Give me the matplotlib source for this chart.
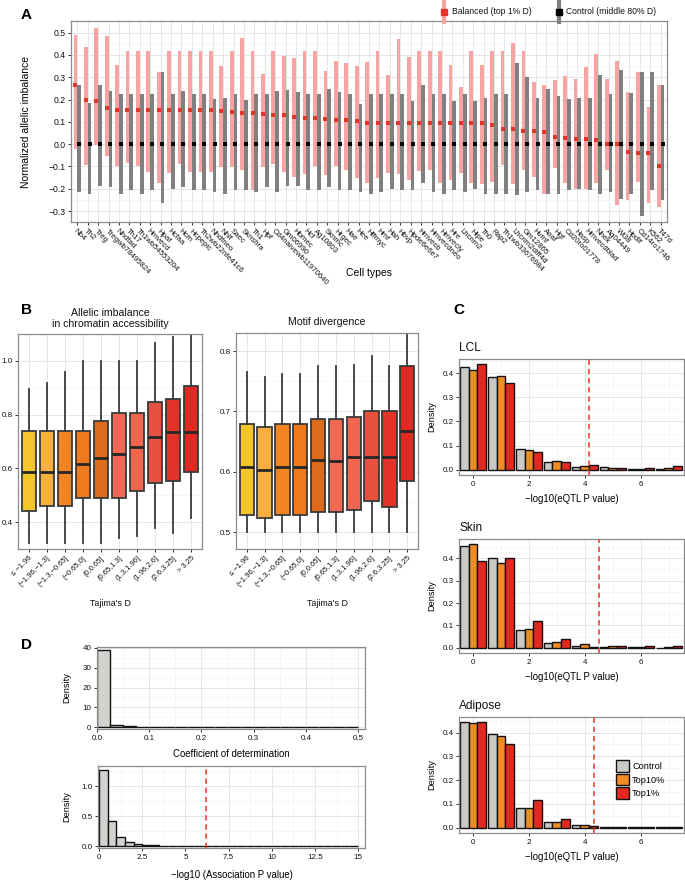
import numpy as np
import matplotlib
matplotlib.use('Agg')
import matplotlib.pyplot as plt
from matplotlib.ticker import MultipleLocator, FuncFormatter
from matplotlib.patches import Patch
from matplotlib.lines import Line2D

plt.rcParams['font.family'] = ['Liberation Sans', 'DejaVu Sans']

# ---------------- DATA ----------------
cell_types = ["Nb4", "Th2", "Treg", "Tregwb78495824", "Nhdfad", "Th17", "Th1wb54553204",
              "Hmvecd", "Hpaf", "Hcfaa", "Hcm", "Hcpepic", "Th2wb22nfe41c6", "Nhdfneo",
              "Nhlf", "Saec", "Sknshra", "Th1", "Hpf", "Cd4naivewb11970640", "Gm06990",
              "Hbmec", "Hcf", "Ag10803", "Sknmc", "Hrgec", "Hae", "Hee", "Hffmyc", "Hmf",
              "Hah", "Hbvp", "Hpde6e6e7", "Hmvecb", "Hmvecdneo", "Hmvecly", "Hre", "Lhcnm2",
              "Hipe", "Th0", "Rap2", "Th1wb33676984", "Lhcnm2diff4d", "Gm12865", "Hvmf",
              "Aoaf", "Hgf", "Cd20ro01778", "Hasp", "Hmvecdblad", "Nhek", "Ag04449", "Wi38",
              "Hpdlf", "Cd14ro1746", "K562", "T47d"]
balanced_mid = [0.264, 0.20, 0.194, 0.16, 0.152, 0.152, 0.152, 0.152, 0.152, 0.152,
                0.152, 0.152, 0.152, 0.152, 0.147, 0.142, 0.138, 0.138, 0.135, 0.132,
                0.132, 0.12, 0.115, 0.115, 0.112, 0.11, 0.106, 0.103, 0.095, 0.095,
                0.095, 0.095, 0.095, 0.095, 0.095, 0.095, 0.095, 0.095, 0.095, 0.095,
                0.088, 0.07, 0.07, 0.06, 0.057, 0.054, 0.03, 0.028, 0.024, 0.024,
                0.02, 0.0, 0.0, -0.035, -0.038, -0.04, -0.098]
balanced_hi = [0.488, 0.436, 0.522, 0.484, 0.354, 0.416, 0.416, 0.416, 0.322, 0.416,
               0.416, 0.416, 0.416, 0.416, 0.35, 0.416, 0.478, 0.416, 0.314, 0.416,
               0.393, 0.385, 0.416, 0.416, 0.327, 0.374, 0.362, 0.35, 0.37, 0.416,
               0.31, 0.472, 0.39, 0.416, 0.416, 0.416, 0.357, 0.258, 0.416, 0.357,
               0.416, 0.416, 0.455, 0.416, 0.277, 0.265, 0.287, 0.304, 0.29, 0.345,
               0.402, 0.29, 0.372, 0.234, 0.322, 0.165, 0.265]
balanced_lo = [-0.024, -0.094, -0.005, -0.054, -0.099, -0.084, -0.099, -0.127, -0.174, -0.129,
               -0.087, -0.124, -0.124, -0.124, -0.102, -0.102, -0.114, -0.204, -0.102, -0.087,
               -0.124, -0.147, -0.132, -0.099, -0.139, -0.099, -0.114, -0.154, -0.174, -0.154,
               -0.129, -0.132, -0.159, -0.12, -0.117, -0.174, -0.162, -0.129, -0.174, -0.177,
               -0.169, -0.094, -0.177, -0.117, -0.147, -0.222, -0.109, -0.174, -0.2, -0.2,
               -0.174, -0.117, -0.274, -0.249, -0.169, -0.264, -0.28]
control_mid = [0.0] * 57
control_hi = [0.264, 0.184, 0.264, 0.24, 0.224, 0.224, 0.224, 0.224, 0.322, 0.224,
              0.24, 0.224, 0.224, 0.204, 0.207, 0.224, 0.2, 0.224, 0.224, 0.24,
              0.244, 0.234, 0.224, 0.224, 0.247, 0.234, 0.224, 0.178, 0.224, 0.224,
              0.224, 0.224, 0.194, 0.265, 0.224, 0.224, 0.194, 0.224, 0.194, 0.205,
              0.224, 0.224, 0.363, 0.302, 0.207, 0.246, 0.218, 0.204, 0.209, 0.207,
              0.31, 0.224, 0.333, 0.228, 0.322, 0.322, 0.265]
control_lo = [-0.214, -0.222, -0.189, -0.192, -0.222, -0.207, -0.222, -0.207, -0.264, -0.2,
              -0.192, -0.204, -0.207, -0.214, -0.222, -0.207, -0.207, -0.214, -0.192, -0.214,
              -0.189, -0.189, -0.207, -0.207, -0.192, -0.207, -0.207, -0.214, -0.222, -0.214,
              -0.2, -0.204, -0.204, -0.174, -0.214, -0.222, -0.207, -0.214, -0.2, -0.222,
              -0.222, -0.222, -0.229, -0.214, -0.207, -0.222, -0.222, -0.207, -0.2, -0.207,
              -0.222, -0.214, -0.244, -0.222, -0.32, -0.204, -0.252]

tajima_bins = ["\u2264 \u22121.96", "(\u22121.96,\u22121.3]", "(\u22121.3,\u22120.65]",
               "(\u22120.65,0]", "(0,0.65]", "(0.65,1.3]", "(1.3,1.96]", "(1.96,2.6]",
               "(2.6,3.25]", "> 3.25"]
# Allelic imbalance boxes
ai_whislo = [0.322, 0.322, 0.322, 0.322, 0.322, 0.342, 0.348, 0.38, 0.36, 0.415]
ai_q1 = [0.441, 0.46, 0.46, 0.488, 0.488, 0.488, 0.516, 0.547, 0.553, 0.585]
ai_med = [0.586, 0.586, 0.586, 0.615, 0.64, 0.654, 0.679, 0.715, 0.737, 0.737]
ai_q3 = [0.738, 0.738, 0.738, 0.738, 0.777, 0.807, 0.807, 0.846, 0.86, 0.905]
ai_whishi = [0.895, 0.917, 0.957, 1.0, 1.0, 1.0, 1.0, 1.065, 1.088, 1.12]
# Motif divergence boxes
md_whislo = [0.5, 0.5, 0.5, 0.5, 0.5, 0.5, 0.501, 0.5, 0.5, 0.5]
md_q1 = [0.529, 0.524, 0.529, 0.529, 0.534, 0.533, 0.536, 0.551, 0.541, 0.584]
md_med = [0.608, 0.603, 0.608, 0.608, 0.62, 0.618, 0.625, 0.625, 0.625, 0.667]
md_q3 = [0.679, 0.675, 0.679, 0.679, 0.688, 0.688, 0.691, 0.70, 0.701, 0.776]
md_whishi = [0.766, 0.757, 0.762, 0.762, 0.775, 0.775, 0.777, 0.792, 0.776, 0.84]

# eQTL histograms (density per -log10 P bin)
eqtl_bins = [0, 1, 2, 3, 4, 5, 6, 7]
groups = ["Control", "Top10%", "Top1%"]
lcl = {"Control": [0.424, 0.386, 0.0875, 0.031, 0.011, 0.010, 0.004, 0.004],
       "Top10%": [0.414, 0.389, 0.082, 0.035, 0.015, 0.006, 0.004, 0.006],
       "Top1%": [0.437, 0.361, 0.075, 0.032, 0.019, 0.008, 0.008, 0.015]}
skin = {"Control": [0.456, 0.403, 0.081, 0.022, 0.007, 0.003, 0.002, 0.001],
        "Top10%": [0.463, 0.378, 0.082, 0.026, 0.015, 0.007, 0.003, 0.002],
        "Top1%": [0.39, 0.403, 0.118, 0.038, 0.002, 0.007, 0.006, 0.006]}
adipose = {"Control": [0.443, 0.393, 0.082, 0.024, 0.010, 0.004, 0.003, 0.002],
           "Top10%": [0.44, 0.386, 0.082, 0.024, 0.010, 0.005, 0.003, 0.002],
           "Top1%": [0.443, 0.353, 0.116, 0.038, 0.007, 0.004, 0.002, 0.003]}
eqtl_thresholds = {"LCL": 4.16, "Skin": 4.5, "Adipose": 4.33}

# Panel D
r2_edges = np.arange(0, 0.5001, 0.025)
r2_density = [38.8, 0.8, 0.45, 0.1, 0.05, 0.03, 0.02, 0.01, 0.01, 0.0,
              0.0, 0.0, 0.0, 0.0, 0.0, 0.0, 0.0, 0.0, 0.0, 0.0]
assoc_edges = np.arange(0, 15.001, 0.5)
assoc_density = [1.27, 0.42, 0.16, 0.065, 0.035, 0.02, 0.012, 0.01, 0.008, 0.005,
                 0.004, 0.003, 0.002, 0.002, 0.001, 0.001, 0.001, 0.001, 0.001, 0.001,
                 0.0, 0.0, 0.0, 0.0, 0.0, 0.0, 0.0, 0.0, 0.0, 0.0]
assoc_threshold = 6.2

# ---------------- FIGURE ----------------
W, H = 685, 880
fig = plt.figure(figsize=(W / 100, H / 100), dpi=100)


def add_ax(l, t, r, b):
    return fig.add_axes([l / W, 1 - b / H, (r - l) / W, (b - t) / H])


def ftext(x, y, s, **kw):
    return fig.text(x / W, 1 - y / H, s, **kw)


GRID = '#E6E6E6'
GRID_MINOR = '#F3F3F3'
FRAME = '#8A8A8A'
TXT = '#111111'
fmt1 = FuncFormatter(lambda v, p: ('%.1f' % v).replace('-0.0', '0.0').replace('-', '\u2212'))


def style(ax, fs=5.8):
    ax.set_facecolor('white')
    for s in ax.spines.values():
        s.set_color(FRAME)
        s.set_linewidth(0.9)
    ax.tick_params(colors='#333333', labelcolor=TXT, labelsize=fs, length=2.5, width=0.7, pad=1.5)
    ax.tick_params(which='minor', length=0)
    ax.grid(True, which='major', color=GRID, lw=0.7)
    ax.grid(True, which='minor', color=GRID_MINOR, lw=0.5)
    ax.set_axisbelow(True)


# ---- Panel A ----
axA = add_ax(71, 21, 667, 222)
style(axA, 6.2)
n = len(cell_types)
xa = np.arange(n)
bh = np.array(balanced_hi); bl = np.array(balanced_lo)
ch = np.array(control_hi); cl = np.array(control_lo)
axA.bar(xa - 0.18, bh - bl, bottom=bl, width=0.36, color='#F6A5A3', lw=0, zorder=2)
axA.bar(xa + 0.18, ch - cl, bottom=cl, width=0.36, color='#808080', lw=0, zorder=2)
axA.scatter(xa - 0.18, balanced_mid, marker='s', s=12, color='#E4352A', lw=0, zorder=3)
axA.scatter(xa + 0.18, control_mid, marker='s', s=12, color='black', lw=0, zorder=3)
axA.set_xlim(-0.6, n - 0.4)
axA.set_ylim(-0.349, 0.552)
axA.set_xticks(xa)
axA.set_xticklabels(cell_types, rotation=-45, ha='left', va='top', rotation_mode='anchor', fontsize=5.6)
axA.yaxis.set_major_locator(MultipleLocator(0.1))
axA.yaxis.set_minor_locator(MultipleLocator(0.05))
axA.yaxis.set_major_formatter(fmt1)
axA.set_ylabel('Normalized allelic imbalance', fontsize=7.5, va='center')
axA.yaxis.set_label_coords((26 - 71) / 596, 0.5)
axA.set_xlabel('Cell types', fontsize=7.5, va='center')
axA.xaxis.set_label_coords(0.5, (222 - 273) / 201)

# legend for A
fig.add_artist(Line2D([444 / W, 444 / W], [1 - 2 / H, 1 - 22 / H], color='#F6A5A3', lw=3))
fig.add_artist(Line2D([444 / W], [1 - 12 / H], marker='s', ms=4, color='#E4352A', lw=0))
ftext(452, 12, 'Balanced (top 1% D)', fontsize=6.2, va='center', ha='left', color=TXT)
fig.add_artist(Line2D([559 / W, 559 / W], [1 - 2 / H, 1 - 22 / H], color='#808080', lw=3))
fig.add_artist(Line2D([559 / W], [1 - 12 / H], marker='s', ms=4, color='black', lw=0))
ftext(566, 12, 'Control (middle 80% D)', fontsize=6.2, va='center', ha='left', color=TXT)

# ---- Panel B ----
box_colors = ['#F5C52C', '#F7B03F', '#F18523', '#EE7A20', '#DE6B1C',
              '#F26953', '#F2654F', '#E5523F', '#E2332A', '#DD2B22']


def boxpanel(ax, lo, q1, med, q3, hi):
    stats = [dict(whislo=lo[i], q1=q1[i], med=med[i], q3=q3[i], whishi=hi[i], label=tajima_bins[i])
             for i in range(len(lo))]
    bp = ax.bxp(stats, positions=np.arange(1, len(lo) + 1), widths=0.8, patch_artist=True,
                showcaps=False, showfliers=False,
                boxprops=dict(edgecolor='#3A3A3A', lw=1.3),
                whiskerprops=dict(color='#3A3A3A', lw=1.3),
                medianprops=dict(color='#262626', lw=2.0))
    for p, c in zip(bp['boxes'], box_colors):
        p.set_facecolor(c)
    ax.set_xlim(0.4, len(lo) + 0.6)
    ax.set_xticks(np.arange(1, len(lo) + 1))
    ax.set_xticklabels(tajima_bins, rotation=45, ha='right', va='top', rotation_mode='anchor', fontsize=5.4)
    ax.xaxis.grid(True, color=GRID, lw=0.7)


axB1 = add_ax(18, 334, 202, 549)
style(axB1)
boxpanel(axB1, ai_whislo, ai_q1, ai_med, ai_q3, ai_whishi)
axB1.set_ylim(0.30, 1.10)
axB1.yaxis.set_major_locator(MultipleLocator(0.2))
axB1.yaxis.set_minor_locator(MultipleLocator(0.1))
axB1.yaxis.set_major_formatter(fmt1)
ftext(110, 318.5, 'Allelic imbalance\nin chromatin accessibility', fontsize=7.6, ha='center', va='center',
      linespacing=1.05, color=TXT)
ftext(110, 603, "Tajima's D", fontsize=6.4, ha='center', va='center', color=TXT)

axB2 = add_ax(236, 333, 418, 549)
style(axB2)
boxpanel(axB2, md_whislo, md_q1, md_med, md_q3, md_whishi)
axB2.set_ylim(0.472, 0.83)
axB2.yaxis.set_major_locator(MultipleLocator(0.1))
axB2.yaxis.set_minor_locator(MultipleLocator(0.05))
axB2.yaxis.set_major_formatter(fmt1)
ftext(327, 322, 'Motif divergence', fontsize=7.6, ha='center', va='center', color=TXT)
ftext(327, 603, "Tajima's D", fontsize=6.4, ha='center', va='center', color=TXT)

# ---- Panel C ----
hist_colors = {"Control": '#C9C9C6', "Top10%": '#F48B21', "Top1%": '#E2291F'}
offsets = {"Control": -0.31, "Top10%": 0.0, "Top1%": 0.31}


def eqtl_panel(t, b, title, data, thr, legend=False):
    ax = add_ax(459, t, 684, b)
    style(ax)
    xb = np.array(eqtl_bins, dtype=float)
    ymax = 0
    for g in groups:
        ax.bar(xb + offsets[g], data[g], width=0.31, color=hist_colors[g], edgecolor='#111111',
               lw=1.0, zorder=2, label=g)
        ymax = max(ymax, max(data[g]))
    ax.axvline(thr, color='#E8332A', lw=1.1, ls=(0, (3.5, 2.5)), zorder=3)
    ax.set_xlim(-0.5, 7.55)
    ax.set_ylim(-0.05 * ymax, 1.05 * ymax)
    ax.xaxis.set_major_locator(MultipleLocator(2))
    ax.xaxis.set_minor_locator(MultipleLocator(1))
    ax.yaxis.set_major_locator(MultipleLocator(0.1))
    ax.yaxis.set_minor_locator(MultipleLocator(0.05))
    ax.yaxis.set_major_formatter(fmt1)
    ax.set_ylabel('Density', fontsize=6.6, va='center')
    ax.yaxis.set_label_coords((432 - 459) / 225, 0.5)
    ax.set_xlabel('\u2212log10(eQTL P value)', fontsize=6.9, va='center')
    ax.xaxis.set_label_coords(0.5, -24 / (b - t))
    ftext(459, t - 11, title, fontsize=8.6, ha='left', va='center', color=TXT)
    if legend:
        handles = [Patch(facecolor=hist_colors[g], edgecolor='#111111', lw=1.0, label=g) for g in groups]
        ax.legend(handles=handles, loc='upper left', bbox_to_anchor=(0.68, 0.66), frameon=False,
                  fontsize=6.6, handlelength=1.5, handleheight=1.6, labelspacing=0.2,
                  handletextpad=0.3, borderaxespad=0)
    return ax


eqtl_panel(359, 475, 'LCL', lcl, eqtl_thresholds['LCL'])
eqtl_panel(539, 653, 'Skin', skin, eqtl_thresholds['Skin'])
eqtl_panel(717, 833, 'Adipose', adipose, eqtl_thresholds['Adipose'], legend=True)

# ---- Panel D ----
axD1 = add_ax(97, 647, 365, 729)
style(axD1)
axD1.bar(r2_edges[:-1], r2_density, width=np.diff(r2_edges), align='edge', color='#D2D2CE',
         edgecolor='#111111', lw=1.0, zorder=2)
axD1.set_xlim(0, 0.513)
axD1.set_ylim(-1.0, 40.5)
axD1.xaxis.set_major_locator(MultipleLocator(0.1))
axD1.xaxis.set_minor_locator(MultipleLocator(0.05))
axD1.yaxis.set_major_locator(MultipleLocator(10))
axD1.yaxis.set_minor_locator(MultipleLocator(5))
axD1.xaxis.set_major_formatter(fmt1)
axD1.set_ylabel('Density', fontsize=6.6, va='center')
axD1.yaxis.set_label_coords((67 - 97) / 268, 0.5)
axD1.set_xlabel('Coefficient of determination', fontsize=6.9, va='center')
axD1.xaxis.set_label_coords(0.5, (729 - 754) / 82)

axD2 = add_ax(98, 766, 365, 848)
style(axD2)
axD2.bar(assoc_edges[:-1], assoc_density, width=np.diff(assoc_edges), align='edge', color='#D2D2CE',
         edgecolor='#111111', lw=1.0, zorder=2)
axD2.axvline(assoc_threshold, color='#E8332A', lw=1.1, ls=(0, (3.5, 2.5)), zorder=3)
axD2.set_xlim(-0.06, 15.4)
axD2.set_ylim(-0.03, 1.34)
axD2.xaxis.set_major_locator(MultipleLocator(2.5))
axD2.xaxis.set_minor_locator(MultipleLocator(1.25))
axD2.yaxis.set_major_locator(MultipleLocator(0.5))
axD2.yaxis.set_minor_locator(MultipleLocator(0.25))
axD2.xaxis.set_major_formatter(FuncFormatter(lambda v, p: ('%g' % v)))
axD2.yaxis.set_major_formatter(fmt1)
axD2.set_ylabel('Density', fontsize=6.6, va='center')
axD2.yaxis.set_label_coords((67 - 98) / 267, 0.5)
axD2.set_xlabel('\u2212log10 (Association P value)', fontsize=6.9, va='center')
axD2.xaxis.set_label_coords(0.5, (848 - 875) / 82)

# panel letters
for lab, (px, py) in {'A': (26, 15), 'B': (26, 310), 'C': (459, 310), 'D': (26, 645)}.items():
    ftext(px, py, lab, fontsize=11, fontweight='bold', ha='center', va='center', color='black')

fig.savefig('out.png', dpi=100)
